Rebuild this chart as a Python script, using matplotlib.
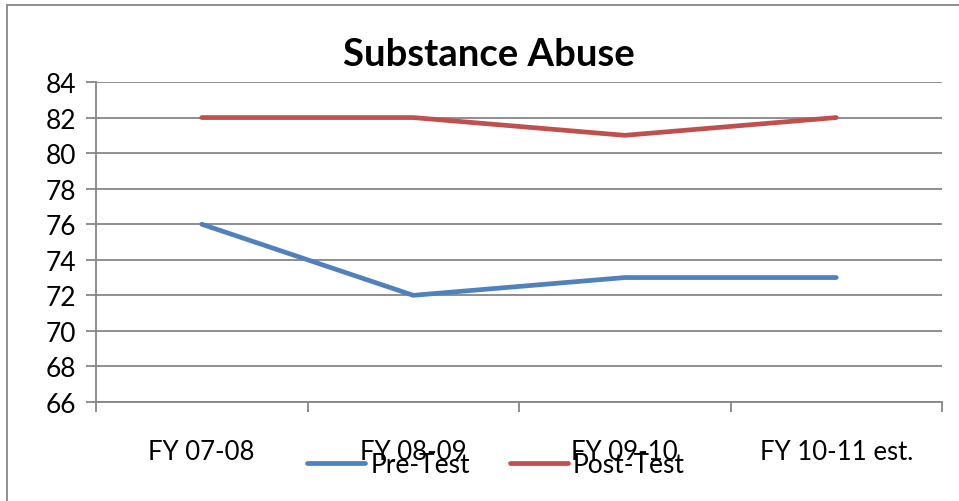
import matplotlib

matplotlib.use("Agg")
import matplotlib.pyplot as plt
from matplotlib.patches import Rectangle

plt.rcParams["font.family"] = ["Lato", "DejaVu Sans"]

years = ["FY 07-08", "FY 08-09", "FY 09-10", "FY 10-11 est."]
pre_test = [76, 72, 73, 73]
post_test = [82, 82, 81, 82]
y_ticks = list(range(66, 85, 2))

GRID = "#868686"
BLUE, RED = "#4F81BD", "#C0504D"

fig = plt.figure(figsize=(9.59, 5.02), dpi=100)
ax = fig.add_axes([96 / 959, 1 - 403 / 502, 846 / 959, 320 / 502])

# outer chart border (only left/top visible, the rest runs off the canvas)
fig.patches.append(Rectangle((7 / 959, -0.1), 1.2, 1 - 6 / 502 + 0.1, transform=fig.transFigure,
                             fill=False, edgecolor=GRID, lw=1.3, clip_on=False))

xs = range(len(years))
ax.plot(xs, pre_test, color=BLUE, lw=3.4, solid_capstyle="round", label="Pre-Test")
ax.plot(xs, post_test, color=RED, lw=3.4, solid_capstyle="round", label="Post-Test")

ax.set_xlim(-0.5, len(years) - 0.5)
ax.set_ylim(66, 84)
ax.set_yticks(y_ticks)
ax.yaxis.grid(True, color=GRID, lw=1.3)
ax.set_axisbelow(True)
ax.tick_params(axis="y", length=7, width=1.3, color=GRID, labelsize=19, pad=7)

# category boundaries get the tick marks, labels sit at the centers
ax.set_xticks([i - 0.5 for i in range(len(years) + 1)])
ax.set_xticklabels([])
ax.set_xticks(list(xs), minor=True)
ax.set_xticklabels(years, minor=True)
ax.tick_params(axis="x", which="major", length=7, width=1.3, color=GRID)
ax.tick_params(axis="x", which="minor", length=0, labelsize=18.5, pad=27)

for side in ("top", "right"):
    ax.spines[side].set_visible(False)
for side in ("left", "bottom"):
    ax.spines[side].set_color(GRID)
    ax.spines[side].set_linewidth(1.3)

fig.text(489 / 959, 1 - 55 / 502, "Substance Abuse", ha="center", va="center",
         fontsize=27.5, fontweight="bold")

fig.legend(loc="center", bbox_to_anchor=(496 / 959, 1 - 466 / 502), ncol=2, frameon=False,
           fontsize=19, handlelength=2.2, handletextpad=0.2, columnspacing=1.5)

fig.savefig("out.png", dpi=100)
